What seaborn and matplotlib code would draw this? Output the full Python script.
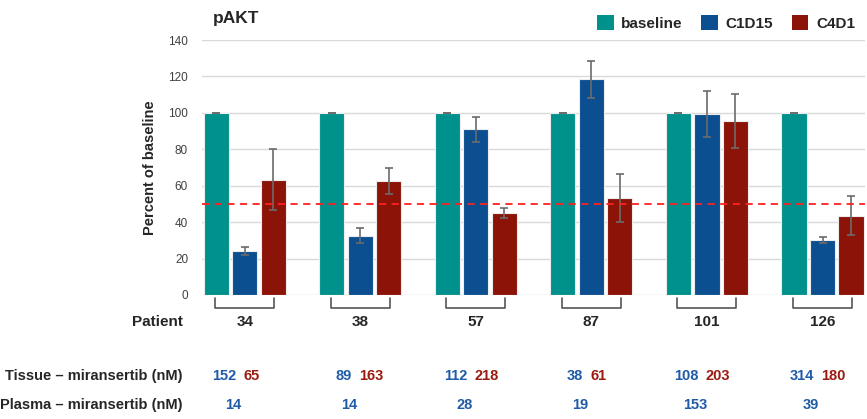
import pandas as pd
import matplotlib.pyplot as plt
import seaborn as sns
from matplotlib.patches import Patch
from matplotlib.transforms import blended_transform_factory


patients = ["34", "38", "57", "87", "101", "126"]
timepoints = ["baseline", "C1D15", "C4D1"]

baseline = [100, 100, 100, 100, 100, 100]
c1d15 = [24.0, 32.6, 91.0, 118.4, 99.5, 30.3]
c4d1 = [63.4, 62.6, 45.0, 53.0, 95.5, 43.6]

baseline_err = [0, 0, 0, 0, 0, 0]
c1d15_err = [2.1, 4.3, 7.0, 10.0, 12.6, 1.8]
c4d1_err = [16.8, 7.3, 2.6, 13.2, 15.0, 10.5]

tissue_c1d15 = [152, 89, 112, 38, 108, 314]
tissue_c4d1 = [65, 163, 218, 61, 203, 180]
plasma = [14, 14, 28, 19, 153, 39]

threshold = 50

colors = {"baseline": "#00918C", "C1D15": "#0B4F90", "C4D1": "#8C1307"}
blue_txt = "#1F5BA6"
red_txt = "#9B1B10"

df = pd.DataFrame({
    "patient": patients * 3,
    "timepoint": ["baseline"] * 6 + ["C1D15"] * 6 + ["C4D1"] * 6,
    "value": baseline + c1d15 + c4d1,
})
errs = [baseline_err, c1d15_err, c4d1_err]

sns.set_style("white")
plt.rcParams["font.family"] = ["Liberation Sans", "DejaVu Sans"]

fig = plt.figure(figsize=(8.67, 4.19), dpi=100)
ax = fig.add_axes([0.233, 0.296, 0.765, 0.6085])

sns.barplot(data=df, x="patient", y="value", hue="timepoint", order=patients,
            hue_order=timepoints, palette=colors, saturation=1, width=0.74, gap=0.12,
            errorbar=None, edgecolor="#ececec", linewidth=0.8, legend=False,
            ax=ax, zorder=2)

# error bars on top of each bar
for cont, err in zip(ax.containers, errs):
    xs = [b.get_x() + b.get_width() / 2 for b in cont]
    ys = [b.get_height() for b in cont]
    ax.errorbar(xs, ys, yerr=err, fmt="none", ecolor="#6b6b6b",
                elinewidth=1.2, capsize=3, capthick=1.2, zorder=3)

ax.axhline(threshold, color="#FF2020", linestyle=(0, (4, 3)), linewidth=1.3, zorder=4)

ax.set_ylim(0, 140)
ax.set_yticks(range(0, 141, 20))
ax.set_xlim(-0.37, len(patients) - 1 + 0.37)
ax.yaxis.grid(True, color="#d9d9d9", linewidth=1)
ax.set_axisbelow(True)
sns.despine(ax=ax, left=True, bottom=True)
ax.tick_params(axis="y", length=0, pad=10, labelsize=8.5, labelcolor="#404040")
ax.tick_params(axis="x", length=0, labelbottom=False)
ax.set_xlabel("")
ax.set_ylabel("Percent of baseline", fontsize=10.5, fontweight="bold", labelpad=8)

# brackets + patient numbers + concentrations below each group
trans = blended_transform_factory(ax.transData, ax.transAxes)
for i, x in enumerate(ax.get_xticks()):
    ax.plot([x - 0.255, x - 0.255, x + 0.255, x + 0.255],
            [-0.012, -0.051, -0.051, -0.012], color="#555555", lw=1.2,
            transform=trans, clip_on=False)
    ax.text(x, -0.106, patients[i], transform=trans, ha="center", va="center",
            fontsize=11, fontweight="bold")
    ax.text(x - 0.07, -0.318, str(tissue_c1d15[i]), transform=trans, ha="right",
            va="center", fontsize=10.5, fontweight="bold", color=blue_txt)
    ax.text(x - 0.01, -0.318, str(tissue_c4d1[i]), transform=trans, ha="left",
            va="center", fontsize=10.5, fontweight="bold", color=red_txt)
    ax.text(x - 0.1, -0.431, str(plasma[i]), transform=trans, ha="center",
            va="center", fontsize=10.5, fontweight="bold", color=blue_txt)

fig.text(0.211, 1 - 322 / 419, "Patient", ha="right", va="center",
         fontsize=11, fontweight="bold")
fig.text(0.211, 1 - 376 / 419, "Tissue \u2013 miransertib (nM)", ha="right",
         va="center", fontsize=10.5, fontweight="bold")
fig.text(0.211, 1 - 405 / 419, "Plasma \u2013 miransertib (nM)", ha="right",
         va="center", fontsize=10.5, fontweight="bold")

fig.text(213 / 867, 1 - 18 / 419, "pAKT", ha="left", va="center",
         fontsize=12.5, fontweight="bold")

handles = [Patch(facecolor=colors[t], edgecolor="none", label=t) for t in timepoints]
fig.legend(handles=handles, loc="upper right", bbox_to_anchor=(1.002, 0.997),
           ncol=3, frameon=False, handlelength=1.1, handleheight=1.1,
           handletextpad=0.5, columnspacing=1.2, prop={"weight": "bold", "size": 11})

fig.savefig("out.png", dpi=100)
